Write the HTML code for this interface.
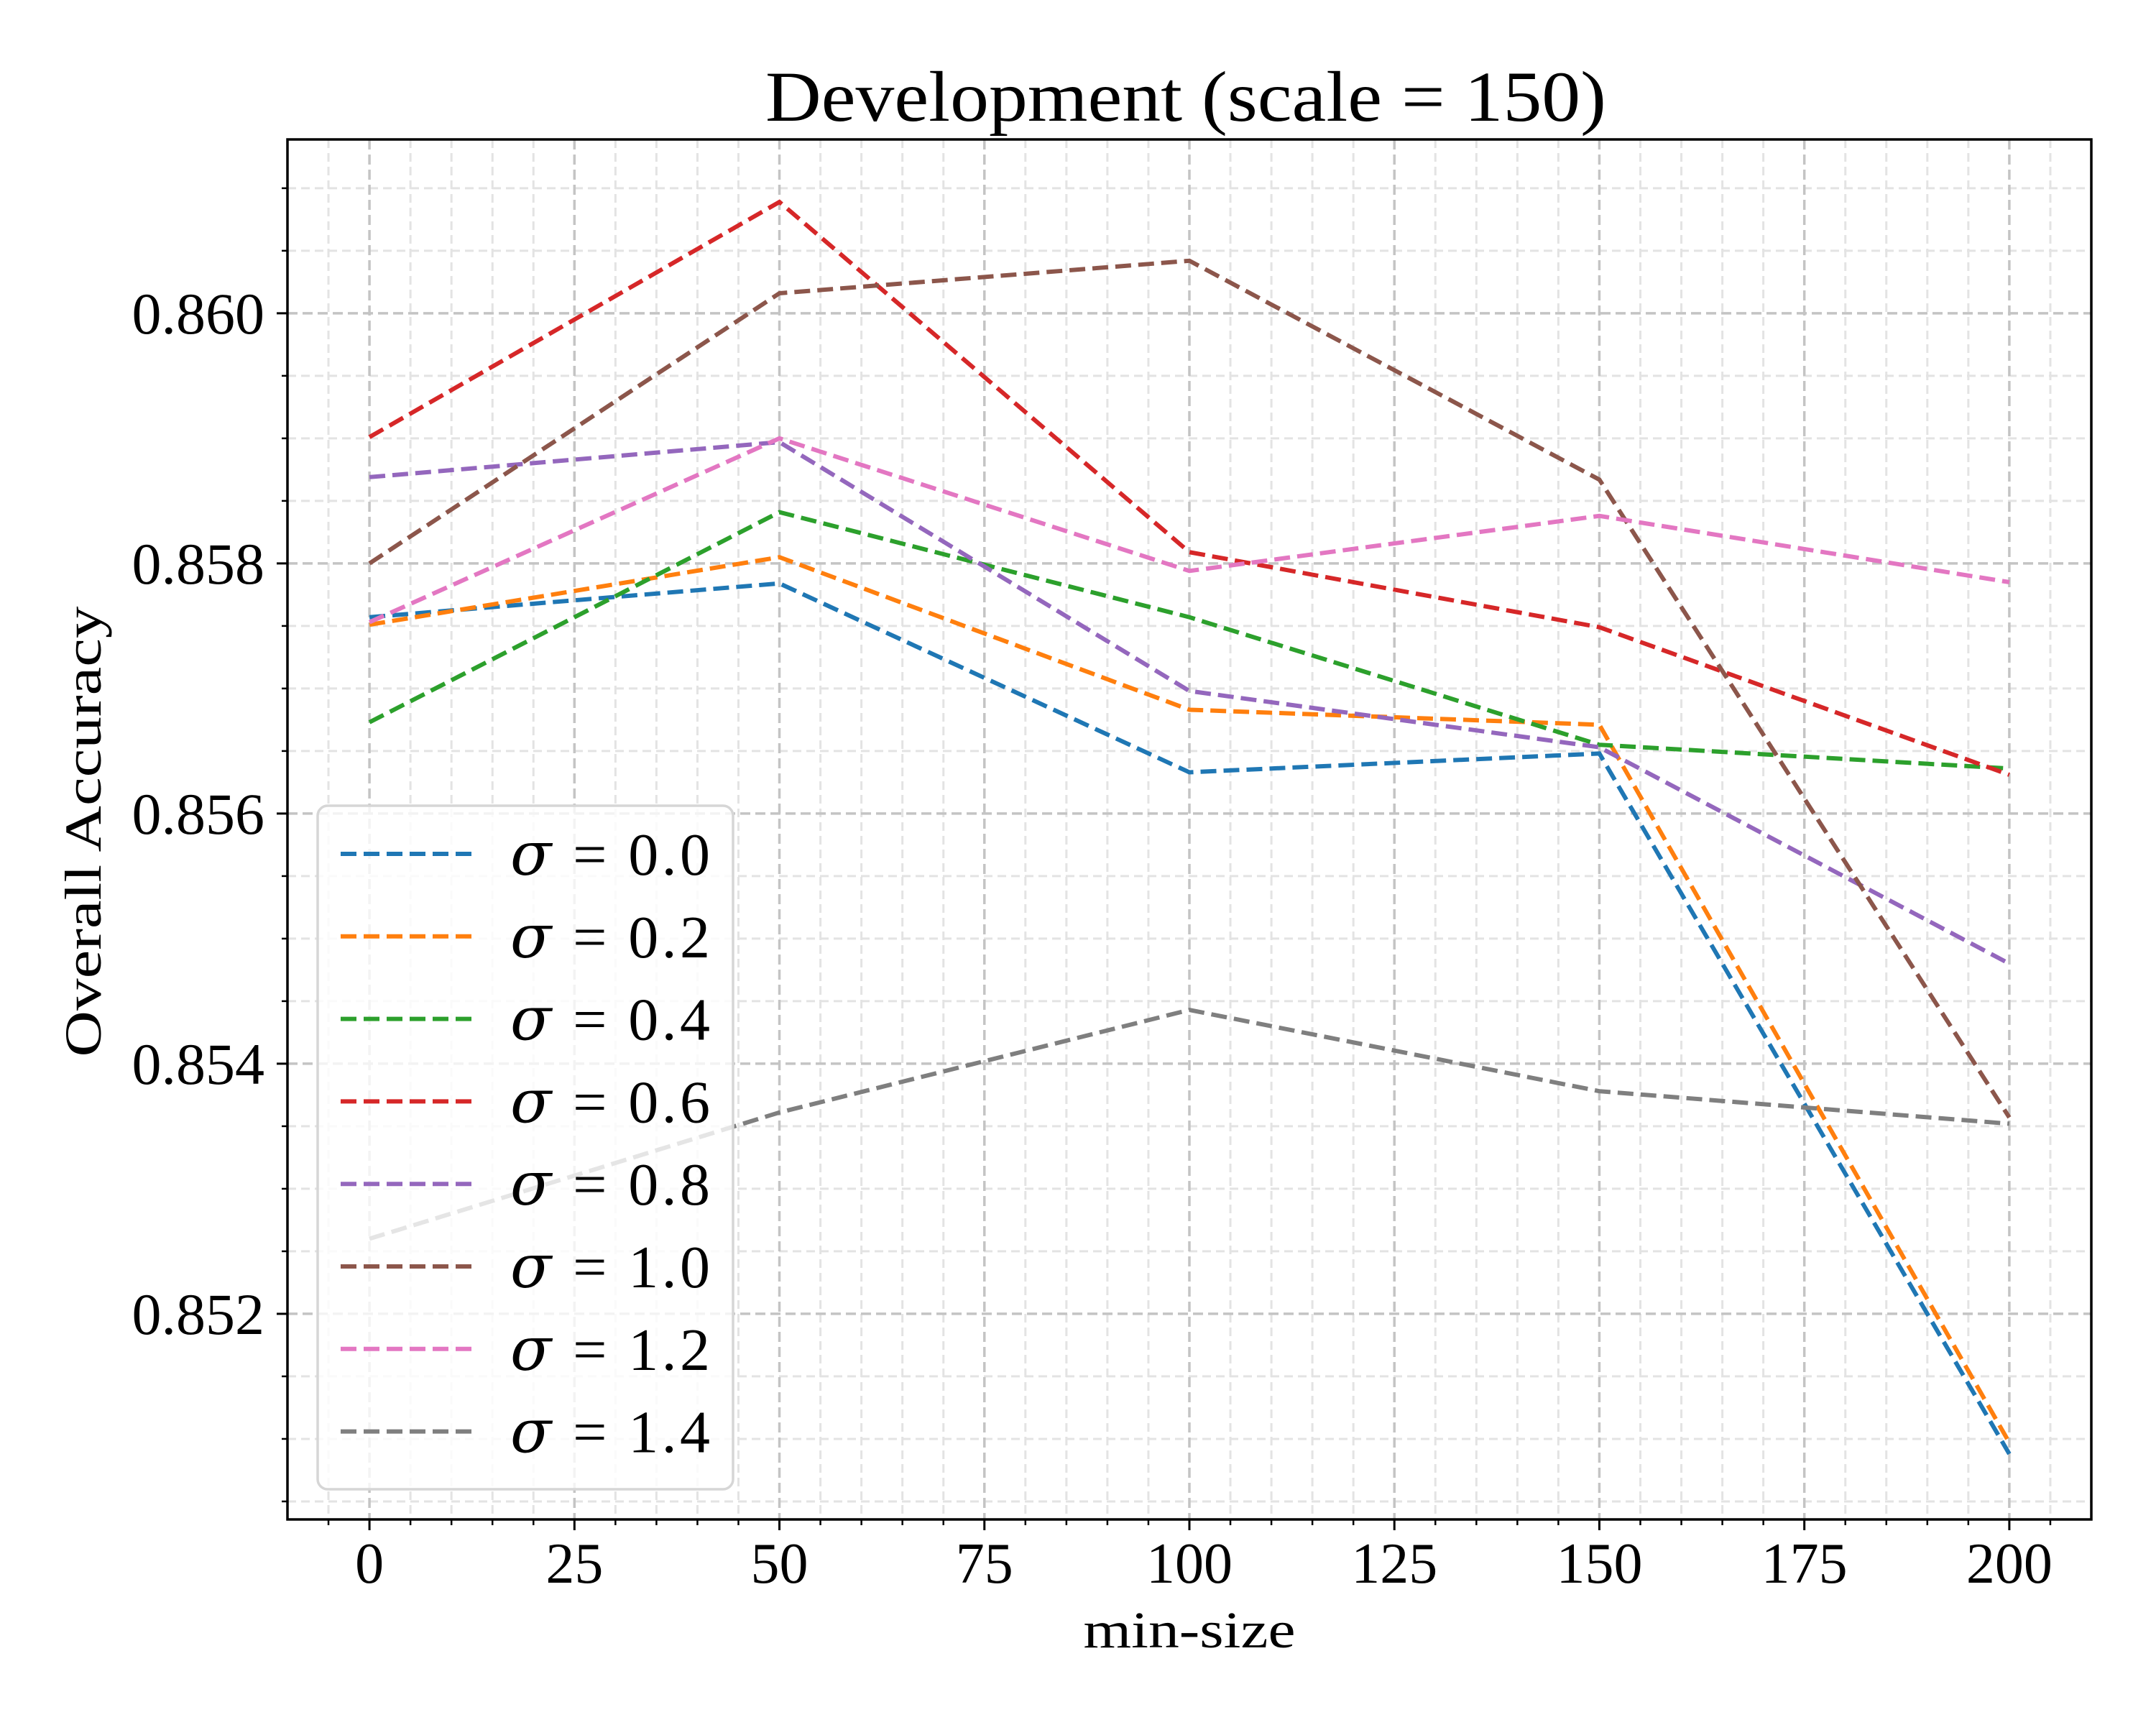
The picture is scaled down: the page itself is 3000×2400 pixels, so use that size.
<!DOCTYPE html>
<html><head><meta charset="utf-8"><style>html,body{margin:0;padding:0;background:#fff}svg{display:block}text{font-family:"Liberation Serif",serif;fill:#000}</style></head>
<body>
<svg id="chart" xmlns="http://www.w3.org/2000/svg" width="3000" height="2400" viewBox="0 0 3000 2400">
<rect width="3000" height="2400" fill="#fff"/>
<g id="grid"></g><g id="series"></g><g id="axes"></g><g id="legend"></g>
<text x="1650" y="168" font-size="100" text-anchor="middle" textLength="1170" lengthAdjust="spacingAndGlyphs">Development (scale = 150)</text>
<text x="1655" y="2292" font-size="72" text-anchor="middle" textLength="295" lengthAdjust="spacingAndGlyphs">min-size</text>
<text x="0" y="0" font-size="72" text-anchor="middle" textLength="627" lengthAdjust="spacingAndGlyphs" transform="translate(140,1157) rotate(-90)">Overall Accuracy</text>
</svg>
<script>
const minSizes = [0, 50, 100, 150, 200];
const sigmaLabels = ["0.0","0.2","0.4","0.6","0.8","1.0","1.2","1.4"];
const colors = ["#1f77b4","#ff7f0e","#2ca02c","#d62728","#9467bd","#8c564b","#e377c2","#7f7f7f"];
const s00 = [0.85757, 0.85784, 0.85633, 0.85648, 0.85088];
const s02 = [0.85751, 0.85805, 0.85683, 0.85671, 0.85097];
const s04 = [0.85673, 0.85841, 0.85757, 0.85655, 0.85636];
const s06 = [0.85901, 0.86089, 0.85809, 0.85749, 0.85631];
const s08 = [0.85869, 0.85897, 0.85698, 0.85653, 0.85480];
const s10 = [0.85800, 0.86016, 0.86042, 0.85867, 0.85357];
const s12 = [0.85753, 0.85900, 0.85794, 0.85838, 0.85785];
const s14 = [0.85260, 0.85361, 0.85443, 0.85378, 0.85352];
const xTicks = [0, 25, 50, 75, 100, 125, 150, 175, 200];
const yTicks = [0.852, 0.854, 0.856, 0.858, 0.860];
const allSeries = [s00,s02,s04,s06,s08,s10,s12,s14];

const L=400,R=2910,T=194,B=2114;
const xMin=-10,xMax=210,yMin=0.850356,yMax=0.86139;
const X=v=>L+(v-xMin)/(xMax-xMin)*(R-L);
const Y=v=>B-(v-yMin)/(yMax-yMin)*(B-T);
const NS="http://www.w3.org/2000/svg";
function mk(tag,attrs,parent){const e=document.createElementNS(NS,tag);for(const k in attrs)e.setAttribute(k,attrs[k]);parent.appendChild(e);return e;}
const grid=document.getElementById('grid'),axes=document.getElementById('axes'),ser=document.getElementById('series'),leg=document.getElementById('legend');

for(let v=-5;v<=205;v+=5){if(v%25===0)continue;const g=mk('line',{x1:X(v),x2:X(v),y1:T,y2:B,stroke:'#e3e3e3','stroke-width':3,'stroke-dasharray':'12,7'},grid);


const t=mk('line',{x1:X(v),x2:X(v),y1:B,y2:B+8,stroke:'#000','stroke-width':2.5},axes);

}
for(let i=-19;i<=3;i++){const v=0.860+i*0.0005;if(i%4===0)continue;if(v<yMin||v>yMax)continue;const g=mk('line',{x1:L,x2:R,y1:Y(v),y2:Y(v),stroke:'#e3e3e3','stroke-width':3,'stroke-dasharray':'12,7'},grid);


const t=mk('line',{x1:L-8,x2:L,y1:Y(v),y2:Y(v),stroke:'#000','stroke-width':2.5},axes);

}
xTicks.forEach(v=>{const g=mk('line',{x1:X(v),x2:X(v),y1:T,y2:B,stroke:'#c4c4c4','stroke-width':3.5,'stroke-dasharray':'14,7'},grid);


const t=mk('line',{x1:X(v),x2:X(v),y1:B,y2:B+15,stroke:'#000','stroke-width':3},axes);


const l=mk('text',{x:X(v),y:B+88,'font-size':80,'text-anchor':'middle'},axes);l.textContent=String(v);

});
yTicks.forEach(v=>{const g=mk('line',{x1:L,x2:R,y1:Y(v),y2:Y(v),stroke:'#c4c4c4','stroke-width':3.5,'stroke-dasharray':'14,7'},grid);


const t=mk('line',{x1:L-15,x2:L,y1:Y(v),y2:Y(v),stroke:'#000','stroke-width':3},axes);


const l=mk('text',{x:L-32,y:Y(v)+28,'font-size':82,'text-anchor':'end'},axes);l.textContent=v.toFixed(3);

});
const frame=mk('rect',{x:L,y:T,width:R-L,height:B-T,fill:'none',stroke:'#000','stroke-width':3.5},axes);



allSeries.forEach((s,i)=>{const pts=s.map((v,j)=>X(minSizes[j])+','+Y(v)).join(' ');
const p=mk('polyline',{points:pts,fill:'none',stroke:colors[i],'stroke-width':6,'stroke-dasharray':'22,10'},ser);

});

const box=mk('rect',{x:442,y:1121,width:578,height:951,rx:14,fill:'#fff','fill-opacity':0.8,stroke:'#d6d6d6','stroke-width':3.5},leg);


sigmaLabels.forEach((lab,i)=>{const y=1188+i*114.8;
const g=mk('g',{},leg);


mk('line',{x1:474,x2:658,y1:y,y2:y,stroke:colors[i],'stroke-width':6,'stroke-dasharray':'22,10'},g);
const t=mk('text',{x:710,y:y+29,'font-size':84,textLength:278,lengthAdjust:'spacing'},g);
const sg=mk('tspan',{'font-style':'italic','font-family':'DejaVu Serif, serif'},t);sg.textContent='σ';
const rest=mk('tspan',{},t);rest.textContent=' = '+lab;});
</script>
</body></html>
